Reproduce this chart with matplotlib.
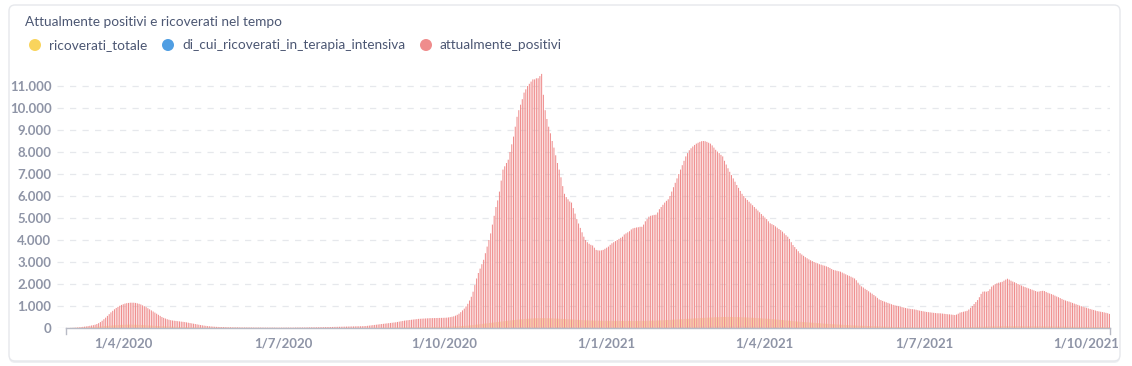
import matplotlib
matplotlib.use("Agg")
import matplotlib.pyplot as plt
import matplotlib.dates as mdates
from matplotlib.patches import FancyBboxPatch, Circle
import pandas as pd

# daily values, 24 Feb 2020 -> 14 Oct 2021, one line per month
attualmente_positivi = [
    0, 0, 0, 1, 1, 2,
    3, 5, 8, 12, 18, 25, 33, 42, 52, 62, 72, 85, 100, 115, 130, 150, 180, 220, 270, 330,
    400, 470, 550, 630, 710, 780, 850, 910, 960, 1010, 1050,
    1080, 1110, 1130, 1140, 1150, 1150, 1150, 1140, 1120, 1100, 1070, 1030, 990, 950, 900,
    850, 800, 750, 700, 650, 600, 550, 500, 460, 430, 400, 375, 355, 340, 330,
    320, 310, 300, 290, 280, 270, 255, 240, 225, 210, 195, 180, 165, 150, 135, 120, 108,
    97, 87, 78, 70, 63, 57, 52, 48, 45, 42, 40, 38, 36, 34,
    33, 32, 31, 30, 29, 28, 27, 26, 25, 25, 24, 24, 23, 23, 22, 22, 21, 21, 20, 20,
    20, 20, 19, 19, 19, 18, 18, 18, 18, 18,
    18, 18, 19, 19, 20, 20, 21, 22, 23, 24, 25, 26, 27, 28, 29, 30, 31, 32, 33, 34,
    35, 36, 37, 38, 40, 42, 44, 46, 48, 50, 52,
    54, 56, 58, 60, 62, 64, 66, 68, 70, 72, 74, 76, 78, 80, 82, 85, 90, 100, 110, 120,
    130, 140, 150, 160, 170, 180, 190, 200, 210, 220, 230,
    240, 250, 260, 275, 290, 305, 320, 335, 345, 355, 365, 375, 385, 395, 405, 415, 420,
    425, 430, 435, 440, 445, 448, 450, 452, 454, 456, 458, 460, 462,
    465, 470, 480, 495, 510, 530, 560, 600, 650, 720, 800, 880, 980, 1100, 1250, 1420,
    1650, 1950, 2250, 2500, 2700, 2900, 3100, 3400, 3700, 4000, 4300, 4700, 5100, 5500, 5800,
    6200, 6700, 7200, 7350, 7500, 7650, 8000, 8350, 8700, 9150, 9600, 9900, 10150, 10400,
    10700, 10850, 11000, 11100, 11200, 11300, 11300, 11350, 11350, 11450, 11550, 10600,
    9900, 9500, 9150, 8850,
    8500, 8200, 7850, 7500, 7200, 6850, 6450, 6100, 5950, 5850, 5750, 5700, 5450, 5200,
    4950, 4750, 4550, 4350, 4150, 4000, 3900, 3830, 3780, 3750, 3650, 3550, 3530, 3520,
    3530, 3550, 3600,
    3650, 3700, 3780, 3850, 3900, 3950, 4000, 4050, 4100, 4150, 4250, 4300, 4350, 4400,
    4480, 4530, 4550, 4570, 4580, 4600, 4600, 4700, 4850, 4950, 5060, 5100, 5120, 5140,
    5150, 5250, 5400,
    5500, 5600, 5700, 5780, 5850, 6000, 6200, 6400, 6600, 6800, 7000, 7200, 7400, 7600,
    7800, 7950, 8080, 8170, 8250, 8320, 8380, 8420, 8460, 8490, 8500, 8490, 8460, 8420,
    8380, 8300, 8200, 8100, 8020, 7950, 7870, 7800, 7600, 7430, 7260, 7100, 6950, 6800,
    6650, 6500, 6370, 6230, 6100, 6000, 5900, 5820, 5740, 5660, 5580, 5500, 5420, 5340,
    5260, 5180, 5100,
    5020, 4950, 4850, 4760, 4720, 4680, 4620, 4560, 4500, 4450, 4380, 4300, 4220, 4150,
    4050, 3900, 3770, 3680, 3580, 3490, 3400, 3340, 3280, 3220, 3170, 3120, 3080, 3040,
    3000, 2970,
    2940, 2900, 2880, 2850, 2830, 2800, 2770, 2730, 2680, 2640, 2620, 2600, 2580, 2560,
    2520, 2480, 2440, 2400, 2370, 2330, 2290, 2250, 2170, 2060, 1950, 1890, 1840, 1780,
    1730, 1670, 1610,
    1560, 1500, 1440, 1370, 1300, 1270, 1230, 1200, 1170, 1140, 1110, 1080, 1050, 1030,
    1010, 990, 970, 950, 930, 910, 890, 880, 865, 855, 845, 830, 810, 790, 775, 760,
    745, 730, 720, 710, 700, 690, 680, 670, 670, 665, 655, 645, 635, 625, 620, 610, 600,
    590, 610, 650, 700, 720, 740, 760, 780, 840, 920, 1000, 1090, 1180, 1270,
    1400, 1550, 1650, 1660, 1650, 1680, 1760, 1880, 1940, 1990, 2030, 2060, 2080, 2100,
    2150, 2200, 2240, 2200, 2150, 2110, 2080, 2040, 2000, 1970, 1930, 1890, 1860, 1830,
    1800, 1770, 1740,
    1710, 1680, 1650, 1660, 1680, 1690, 1680, 1640, 1600, 1570, 1540, 1510, 1470, 1430,
    1400, 1360, 1320, 1280, 1250, 1220, 1200, 1170, 1140, 1110, 1080, 1050, 1020, 990,
    965, 940,
    920, 890, 865, 840, 820, 795, 770, 755, 740, 725, 710, 690, 670, 640,
]

ricoverati_totale = [
    0, 0, 0, 0, 1, 1,
    2, 3, 4, 5, 7, 9, 11, 14, 17, 20, 24, 28, 32, 37, 42, 48, 54, 60, 67, 74,
    81, 88, 95, 102, 108, 114, 120, 126, 131, 136, 140,
    144, 147, 150, 152, 153, 153, 152, 150, 147, 144, 140, 136, 132, 127, 122, 117, 112,
    107, 102, 97, 92, 88, 84, 80, 76, 72, 69, 66, 63, 60,
    57, 54, 51, 48, 45, 43, 41, 39, 37, 35, 33, 31, 29, 27, 26, 25, 24, 23, 22, 21,
    20, 19, 18, 17, 16, 15, 15, 14, 14, 13, 13,
    12, 12, 11, 11, 10, 10, 9, 9, 8, 8, 8, 7, 7, 7, 6, 6, 6, 6, 5, 5,
    5, 5, 5, 5, 5, 5, 5, 5, 5, 5,
    5, 5, 4, 4, 4, 4, 4, 4, 4, 4, 4, 4, 4, 4, 5, 5, 5, 5, 5, 5,
    5, 5, 6, 6, 6, 6, 6, 6, 7, 7, 7,
    7, 7, 8, 8, 8, 8, 9, 9, 9, 9, 10, 10, 10, 11, 11, 11, 12, 12, 13, 13,
    14, 14, 15, 15, 16, 17, 18, 19, 20, 21, 22,
    23, 24, 25, 26, 27, 28, 29, 30, 31, 32, 33, 34, 35, 36, 37, 38, 39, 40, 41, 42,
    43, 44, 45, 46, 47, 48, 49, 50, 51, 52,
    54, 56, 58, 60, 63, 66, 70, 74, 78, 83, 88, 94, 100, 107, 114, 122, 130, 139, 148, 158,
    168, 178, 188, 198, 208, 218, 228, 238, 248, 258, 268,
    278, 288, 298, 308, 318, 328, 337, 346, 355, 364, 372, 380, 388, 396, 403, 410, 417,
    423, 429, 434, 439, 443, 446, 448, 449, 450, 449, 447, 445, 442,
    439, 436, 432, 428, 424, 420, 416, 411, 406, 401, 396, 391, 386, 381, 376, 371, 366,
    361, 357, 353, 349, 346, 343, 340, 338, 336, 334, 332, 331, 330, 329,
    328, 327, 326, 325, 325, 324, 324, 323, 323, 322, 322, 322, 322, 321, 321, 321, 321,
    322, 322, 323, 324, 325, 326, 328, 330, 332, 334, 336, 338, 341, 344,
    347, 350, 354, 358, 362, 366, 370, 375, 380, 385, 390, 395, 400, 405, 410, 415, 420,
    425, 430, 435, 440, 445, 450, 455, 460, 464, 468, 472,
    476, 480, 484, 488, 491, 494, 497, 499, 501, 502, 503, 503, 503, 502, 501, 499, 497,
    494, 491, 488, 484, 480, 476, 472, 467, 462, 457, 452, 447, 442, 437,
    432, 426, 420, 414, 408, 401, 394, 387, 380, 373, 366, 358, 350, 342, 334, 326, 318,
    310, 302, 295, 288, 281, 274, 267, 261, 255, 249, 243, 237, 231,
    225, 219, 213, 207, 201, 195, 189, 183, 178, 173, 168, 163, 158, 153, 148, 143, 138,
    134, 130, 126, 122, 118, 114, 110, 106, 103, 100, 97, 94, 91, 88,
    85, 82, 79, 76, 73, 70, 67, 64, 61, 58, 56, 54, 52, 50, 48, 46, 44, 42, 40, 38,
    37, 36, 35, 34, 33, 32, 31, 30, 30, 29,
    29, 28, 28, 28, 27, 27, 27, 27, 27, 27, 27, 28, 28, 28, 29, 29, 30, 30, 31, 32,
    33, 34, 35, 37, 39, 41, 43, 45, 47, 50, 52,
    54, 56, 58, 60, 62, 64, 66, 68, 70, 72, 74, 75, 76, 77, 78, 79, 80, 80, 80, 80,
    79, 79, 78, 78, 77, 77, 76, 76, 75, 75, 74,
    74, 73, 73, 72, 72, 71, 71, 70, 70, 69, 69, 68, 67, 66, 65, 64, 63, 62, 61, 60,
    59, 58, 57, 56, 55, 54, 53, 52, 51, 50,
    50, 49, 49, 48, 48, 47, 47, 46, 46, 45, 45, 44, 44, 43,
]

terapia_intensiva = [
    0, 0, 0, 0, 0, 0,
    0, 0, 0, 1, 1, 1, 1, 2, 2, 3, 3, 4, 4, 5, 5, 6, 7, 8, 9, 10,
    11, 12, 13, 14, 15, 16, 17, 18, 19, 20, 21,
    22, 22, 23, 23, 23, 23, 22, 22, 21, 21, 20, 19, 18, 17, 16, 15, 14, 13, 12, 11,
    10, 10, 9, 9, 8, 8, 7, 7, 6, 6,
    6, 5, 5, 5, 4, 4, 4, 4, 3, 3, 3, 3, 3, 2, 2, 2, 2, 2, 2, 2,
    2, 1, 1, 1, 1, 1, 1, 1, 1, 1, 1,
    1, 1, 1, 1, 1, 1, 1, 1, 1, 1, 1, 1, 1, 1, 1, 0, 0, 0, 0, 0,
    0, 0, 0, 0, 0, 0, 0, 0, 0, 0,
    0, 0, 0, 0, 0, 0, 0, 0, 0, 0, 0, 0, 0, 0, 0, 0, 0, 0, 0, 0,
    0, 0, 0, 0, 0, 0, 0, 0, 1, 1, 1,
    1, 1, 1, 1, 1, 1, 1, 1, 1, 1, 1, 1, 1, 1, 1, 1, 1, 1, 1, 1,
    1, 1, 2, 2, 2, 2, 2, 2, 2, 2, 2,
    2, 2, 2, 3, 3, 3, 3, 3, 3, 3, 3, 3, 4, 4, 4, 4, 4, 4, 4, 5,
    5, 5, 5, 5, 5, 6, 6, 6, 6, 6,
    6, 6, 7, 7, 7, 8, 8, 9, 9, 10, 10, 11, 12, 13, 14, 15, 16, 17, 18, 19,
    20, 21, 22, 23, 24, 25, 26, 27, 28, 29, 30,
    31, 32, 33, 34, 35, 36, 37, 38, 39, 40, 41, 42, 43, 44, 45, 46, 47, 48, 48, 49,
    49, 50, 50, 50, 50, 50, 49, 49, 48, 48,
    47, 47, 46, 45, 45, 44, 43, 43, 42, 41, 40, 40, 39, 38, 38, 37, 37, 36, 36, 35,
    35, 35, 34, 34, 34, 34, 33, 33, 33, 33, 33,
    33, 33, 33, 32, 32, 32, 32, 32, 32, 32, 32, 32, 32, 32, 32, 32, 32, 32, 32, 33,
    33, 33, 33, 34, 34, 34, 35, 35, 35, 36, 36,
    37, 37, 38, 39, 40, 41, 42, 43, 44, 45, 46, 47, 48, 49, 50, 51, 52, 53, 54, 55,
    56, 57, 58, 59, 60, 61, 62, 62,
    63, 63, 64, 64, 65, 65, 65, 66, 66, 66, 66, 66, 66, 66, 66, 65, 65, 65, 64, 64,
    63, 63, 62, 62, 61, 60, 60, 59, 58, 57, 56,
    55, 54, 53, 52, 51, 50, 49, 48, 47, 46, 45, 44, 43, 42, 41, 40, 39, 38, 37, 36,
    35, 34, 33, 32, 31, 30, 29, 28, 27, 26,
    25, 24, 23, 22, 21, 21, 20, 19, 18, 18, 17, 16, 16, 15, 15, 14, 13, 13, 12, 12,
    11, 11, 10, 10, 9, 9, 9, 8, 8, 8, 7,
    7, 7, 6, 6, 6, 5, 5, 5, 5, 4, 4, 4, 4, 4, 3, 3, 3, 3, 3, 3,
    3, 2, 2, 2, 2, 2, 2, 2, 2, 2,
    2, 2, 2, 2, 2, 2, 2, 2, 2, 2, 2, 2, 2, 2, 2, 2, 2, 2, 2, 2,
    3, 3, 3, 3, 3, 3, 4, 4, 4, 4, 5,
    5, 5, 6, 6, 6, 7, 7, 7, 8, 8, 8, 8, 9, 9, 9, 9, 9, 9, 9, 9,
    9, 9, 9, 9, 9, 9, 9, 9, 9, 9, 9,
    9, 9, 9, 9, 9, 9, 9, 8, 8, 8, 8, 8, 8, 8, 8, 8, 8, 7, 7, 7,
    7, 7, 7, 7, 7, 7, 6, 6, 6, 6,
    6, 6, 6, 6, 6, 6, 6, 5, 5, 5, 5, 5, 5, 5,
]

start_date = "2020-02-24"
tick_dates = ["2020-04-01", "2020-07-01", "2020-10-01", "2021-01-01",
              "2021-04-01", "2021-07-01", "2021-10-01"]
tick_labels = ["1/4/2020", "1/7/2020", "1/10/2020", "1/1/2021",
               "1/4/2021", "1/7/2021", "1/10/2021"]
y_ticks = list(range(0, 12000, 1000))

series_names = ["ricoverati_totale", "di_cui_ricoverati_in_terapia_intensiva", "attualmente_positivi"]
colors = ["#F9D45C", "#509EE3", "#EF8C8C"]

lens = (len(attualmente_positivi), len(ricoverati_totale), len(terapia_intensiva))
assert len(set(lens)) == 1, lens

dates = pd.date_range(start_date, periods=len(attualmente_positivi), freq="D")
x = mdates.date2num(dates)

W, H = 1132, 366
fig = plt.figure(figsize=(W / 100, H / 100), dpi=100)
fig.patch.set_facecolor("white")

# card, title and legend drawn in pixel coordinates
bg = fig.add_axes([0, 0, 1, 1], zorder=0)
bg.set_xlim(0, W)
bg.set_ylim(H, 0)
bg.axis("off")
bg.add_patch(FancyBboxPatch((9, 7), 1111, 356, boxstyle="round,pad=0,rounding_size=6",
                            fc="#EEEFF2", ec="none", lw=0))
bg.add_patch(FancyBboxPatch((9, 5), 1111, 356, boxstyle="round,pad=0,rounding_size=6",
                            fc="white", ec="#E6E8EC", lw=1.0))
text_color = "#4C5773"
bg.text(25, 22, "Attualmente positivi e ricoverati nel tempo", fontsize=9.8,
        family="Lato", color=text_color, va="center", ha="left")
for cx, name, c in zip([35, 168, 426], series_names, colors):
    bg.add_patch(Circle((cx, 45), 6, color=c, lw=0))
    bg.text(cx + 14, 45, name, fontsize=9.8, family="Lato", color=text_color,
            va="center", ha="left")

# main chart
ax = fig.add_axes([57 / W, (H - 328) / H, (1110 - 57) / W, (328 - 70.6) / H], zorder=1)
ax.patch.set_alpha(0)

ax.bar(x - 0.475, ricoverati_totale, width=0.27, align="edge", color=colors[0], lw=0, snap=False)
ax.bar(x - 0.205, terapia_intensiva, width=0.1, align="edge", color=colors[1], lw=0, snap=False)
ax.bar(x - 0.105, attualmente_positivi, width=0.58, align="edge", color=colors[2], lw=0, snap=False)

ax.set_xlim(x[0] - 0.5, x[-1] + 0.5)
ax.set_ylim(0, 11700)

ax.set_yticks(y_ticks)
ax.set_yticklabels([f"{v:,}".replace(",", ".") for v in y_ticks])
ax.set_xticks(mdates.date2num(pd.to_datetime(tick_dates)))
ax.set_xticklabels(tick_labels)
tick_color = "#8E94A6"
for lab in ax.get_xticklabels() + ax.get_yticklabels():
    lab.set_family("Lato")
    lab.set_fontweight("bold")
    lab.set_fontsize(9.5)
    lab.set_color(tick_color)
ax.tick_params(axis="y", length=0, pad=4)
ax.tick_params(axis="x", length=0, pad=7)

ax.yaxis.grid(True, color="#E6E8EC", lw=0.9, ls=(0, (5, 5)))
ax.set_axisbelow(True)
for s in ["top", "right", "left"]:
    ax.spines[s].set_visible(False)
axis_left = mdates.date2num(pd.Timestamp("2020-02-28")) + 0.6
ax.spines["bottom"].set_bounds(axis_left, x[-1] + 0.4)
ax.spines["bottom"].set_color("#B8BBC6")
ax.spines["bottom"].set_linewidth(1.0)
for ex in (axis_left, x[-1] + 0.4):
    ax.plot([ex, ex], [0, -250], color="#B8BBC6", lw=1.0, clip_on=False)

fig.savefig("out.png", dpi=100, facecolor="white")
